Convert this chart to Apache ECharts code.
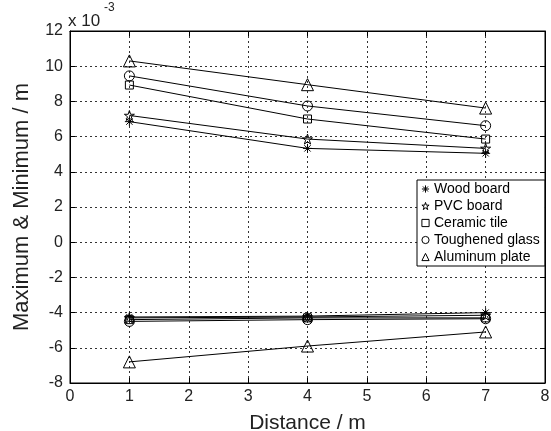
<!DOCTYPE html>
<html>
<head>
<meta charset="utf-8">
<script src="https://cdn.jsdelivr.net/npm/echarts@6/dist/echarts.min.js"></script>
<style>html,body{margin:0;padding:0;background:#fff;}#c{width:551px;height:431px;}</style>
</head>
<body>
<div id="c"></div>
<script>
// values in units of 1e-3 m
const distances = [1, 4, 7];
const seriesNames = ['Wood board', 'PVC board', 'Ceramic tile', 'Toughened glass', 'Aluminum plate'];
const woodMax = [6.85, 5.33, 5.05];
const pvcMax = [7.2, 5.86, 5.33];
const ceramicMax = [8.93, 7.0, 5.86];
const glassMax = [9.45, 7.74, 6.62];
const aluminumMax = [10.3, 8.95, 7.62];
const woodMin = [-4.25, -4.2, -4.0];
const pvcMin = [-4.3, -4.25, -4.15];
const ceramicMin = [-4.4, -4.3, -4.3];
const glassMin = [-4.5, -4.4, -4.35];
const aluminumMin = [-6.8, -5.9, -5.1];
const xTicks = [0, 1, 2, 3, 4, 5, 6, 7, 8];
const yTicks = [-8, -6, -4, -2, 0, 2, 4, 6, 8, 10, 12];

const asterisk = 'path://M5 0 L5 10 M0 5 L10 5 M1.5 1.5 L8.5 8.5 M8.5 1.5 L1.5 8.5';
const star = 'path://M5 0 L6.2 3.6 L10 3.6 L6.9 5.9 L8.1 9.5 L5 7.3 L1.9 9.5 L3.1 5.9 L0 3.6 L3.8 3.6 Z';
const symbols = [asterisk, star, 'rect', 'circle', 'triangle'];
const sizes = [9, 10, 8, 10, 12];
const maxData = [woodMax, pvcMax, ceramicMax, glassMax, aluminumMax];
const minData = [woodMin, pvcMin, ceramicMin, glassMin, aluminumMin];

const series = [];
seriesNames.forEach((name, i) => {
  [maxData[i], minData[i]].forEach(vals => {
    series.push({
      name: name,
      type: 'line',
      data: distances.map((d, k) => [d, vals[k]]),
      symbol: symbols[i],
      symbolSize: sizes[i],
      showAllSymbol: true,
      lineStyle: { color: '#000', width: 1 },
      itemStyle: { color: 'rgba(0,0,0,0)', borderColor: '#000', borderWidth: 1 },
      emphasis: { disabled: true },
      animation: false
    });
  });
});

const font = 'Liberation Sans, Arial, sans-serif';
const tickStyle = { show: true, inside: true, length: 5, lineStyle: { color: '#000' } };
const chart = echarts.init(document.getElementById('c'));
chart.setOption({
  backgroundColor: '#fff',
  animation: false,
  textStyle: { fontFamily: font },
  grid: { left: 70, right: 6, top: 31, bottom: 48, show: true, borderColor: '#000', borderWidth: 1, outerBoundsMode: 'none', containLabel: false },
  legend: {
    data: seriesNames,
    orient: 'vertical',
    left: 417, top: 180,
    padding: [2, 5, 2, 3],
    itemGap: 3,
    itemWidth: 9, itemHeight: 9,
    backgroundColor: '#fff',
    borderColor: '#000', borderWidth: 1,
    textStyle: { fontSize: 14, lineHeight: 14, color: '#000', fontFamily: font, padding: [0, 0, 0, -1] },
    itemStyle: { color: 'rgba(0,0,0,0)', borderColor: '#000', borderWidth: 1 },
    lineStyle: { opacity: 0 }
  },
  xAxis: [{
    type: 'value', min: 0, max: 8, interval: 1,
    name: 'Distance / m', nameLocation: 'middle', nameGap: 30,
    nameTextStyle: { fontSize: 21, color: '#222' },
    axisLine: { show: true, onZero: false, lineStyle: { color: '#000' } },
    axisTick: tickStyle,
    axisLabel: { fontSize: 16, color: '#222', margin: 6, formatter: v => xTicks.includes(v) ? String(v) : '' },
    splitLine: { show: true, lineStyle: { color: '#333', type: [2, 3], width: 1 } }
  }, {
    type: 'value', min: 0, max: 8, interval: 1, position: 'top',
    axisLine: { show: true, onZero: false, lineStyle: { color: '#000' } },
    axisTick: tickStyle, axisLabel: { show: false }, splitLine: { show: false }
  }],
  yAxis: [{
    type: 'value', min: -8, max: 12, interval: 2,
    name: 'Maximum & Minimum / m', nameLocation: 'middle', nameGap: 37,
    nameTextStyle: { fontSize: 22, color: '#222' },
    axisLine: { show: true, onZero: false, lineStyle: { color: '#000' } },
    axisTick: tickStyle,
    axisLabel: { fontSize: 16, color: '#222', margin: 7, formatter: v => yTicks.includes(v) ? String(v) : '' },
    splitLine: { show: true, lineStyle: { color: '#333', type: [2, 3], width: 1 } }
  }, {
    type: 'value', min: -8, max: 12, interval: 2, position: 'right',
    axisLine: { show: true, onZero: false, lineStyle: { color: '#000' } },
    axisTick: tickStyle, axisLabel: { show: false }, splitLine: { show: false }
  }],
  graphic: [{
    type: 'text',
    style: { x: 68, y: 21, text: 'x 10', fontSize: 17, fill: '#222', fontFamily: font, verticalAlign: 'middle' }
  }, {
    type: 'text',
    style: { x: 104, y: 8, text: '-3', fontSize: 12, fill: '#222', fontFamily: font, verticalAlign: 'middle' }
  }],
  series: series
});
</script>
</body>
</html>
